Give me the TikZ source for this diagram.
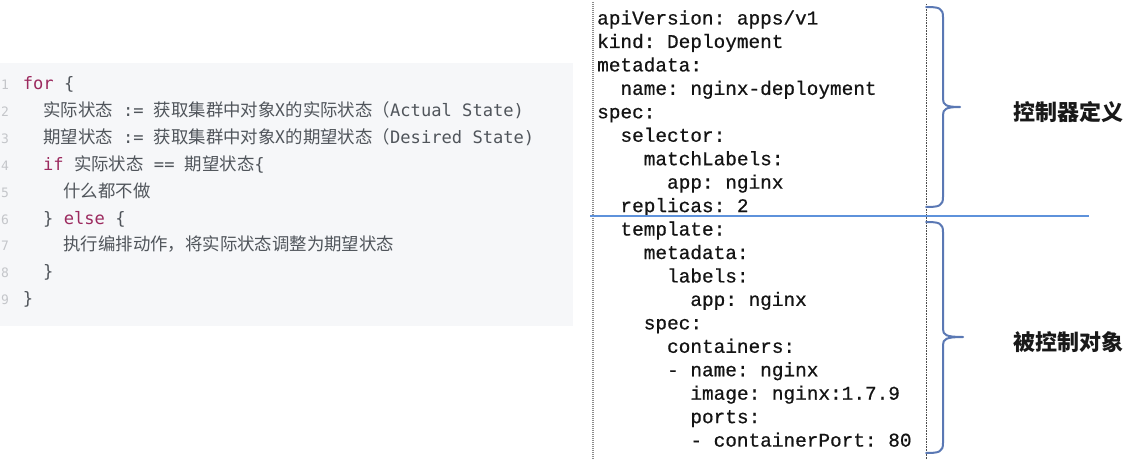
\documentclass[tikz,border=0pt]{standalone}
\usepackage{fontspec}
\setmainfont{DejaVu Sans}
\newfontfamily\lmono{DejaVu Sans Mono}
\newfontfamily\cjk{Noto Sans CJK SC}
\newfontfamily\ymono[FakeBold=0.6]{Liberation Mono}
\frenchspacing
\definecolor{codebg}{HTML}{F6F7F9}
\definecolor{codetxt}{HTML}{50555B}
\definecolor{kwc}{HTML}{9C2A5F}
\definecolor{lnum}{HTML}{C4C6CA}
\definecolor{sepblue}{HTML}{5E92DB}
\definecolor{bracec}{HTML}{5A78B4}
\newcommand\cj[1]{{\cjk\fontsize{17.4}{20}\selectfont #1}}
\newcommand\kw[1]{\textcolor{kwc}{#1}}
\tikzset{
  codeline/.style={anchor=base west, inner sep=0pt, text=codetxt,
    font=\lmono\fontsize{17.1}{20}\selectfont\frenchspacing},
  linenum/.style={anchor=base west, inner sep=0pt, text=lnum,
    font=\lmono\fontsize{13}{16}\selectfont},
  yamlline/.style={anchor=base west, inner sep=0pt, text=black!92,
    font=\ymono\fontsize{19.4}{22}\selectfont\frenchspacing},
  bracelabel/.style={anchor=center, inner sep=0pt, text=black!90,
    font=\cjk\bfseries\fontsize{22}{24}\selectfont},
  bracepath/.style={draw=bracec, line width=2pt, line cap=round, line join=round},
  sepline/.style={draw=sepblue, line width=1.8pt},
  leftdots/.style={draw=black!45, line width=1.3pt, dash pattern=on 1pt off 1pt},
  rightdots/.style={draw=black!70, line width=0.7pt, dash pattern=on 0.8pt off 0.8pt}
}
\begin{document}
\begin{tikzpicture}[x=1pt,y=-1pt]
\useasboundingbox[fill=white] (0,0) rectangle (1140,460);
% ---------- left code panel ----------
\fill[codebg] (0,63) rectangle (573,326);
\foreach \n in {1,...,9}{
  \node[linenum] (ln\n) at (1,{89.5+26.9*(\n-1)}) {\n};
}
\node[codeline] (c1) at (22.7,89.5) {\kw{for}~\{};
\node[codeline] (c2) at (43,116.4) {\cj{实际状态}~:=~\cj{获取集群中对象X的实际状态（}Actual~State)};
\node[codeline] (c3) at (43,143.3) {\cj{期望状态}~:=~\cj{获取集群中对象X的期望状态（}Desired~State)};
\node[codeline] (c4) at (43,170.2) {\kw{if}~\cj{实际状态}~==~\cj{期望状态}\{};
\node[codeline] (c5) at (63.3,197.1) {\cj{什么都不做}};
\node[codeline] (c6) at (43,224) {\}~\kw{else}~\{};
\node[codeline] (c7) at (63.3,250.9) {\cj{执行编排动作，将实际状态调整为期望状态}};
\node[codeline] (c8) at (43,277.8) {\}};
\node[codeline] (c9) at (22.7,304.7) {\}};
% ---------- right yaml panel ----------
\draw[leftdots] (593,2) -- (593,460);
\draw[rightdots] (926,4) -- (926,460);
\foreach \c/\t [count=\i from 0] in {
  0/{apiVersion: apps/v1},
  0/{kind: Deployment},
  0/{metadata:},
  2/{name: nginx-deployment},
  0/{spec:},
  2/{selector:},
  4/{matchLabels:},
  6/{app: nginx},
  2/{replicas: 2},
  2/{template:},
  4/{metadata:},
  6/{labels:},
  8/{app: nginx},
  4/{spec:},
  6/{containers:},
  6/{- name: nginx},
  8/{image: nginx:1.7.9},
  8/{ports:},
  8/{- containerPort: 80}}{
  \node[yamlline] (y\i) at ({597+11.65*\c},{24.5+23.45*\i}) {\t};
}
\draw[sepline] (590,216) -- (1089,216);
% braces
\coordinate (b1top) at (926,7);
\coordinate (b1tip) at (960,107);
\coordinate (b1bot) at (926,207);
\path[bracepath] (b1top) .. controls (939,7) and (943,8) .. (943,17)
  -- (943,99) .. controls (943,105) and (946,107) .. (b1tip)
  .. controls (946,107) and (943,109) .. (943,115)
  -- (943,197) .. controls (943,206) and (939,207) .. (b1bot);
\coordinate (b2top) at (926,222);
\coordinate (b2tip) at (963,337);
\coordinate (b2bot) at (926,453);
\path[bracepath] (b2top) .. controls (939,222) and (943,223) .. (943,232)
  -- (943,329) .. controls (943,335) and (946,337) .. (b2tip)
  .. controls (946,337) and (943,339) .. (943,345)
  -- (943,443) .. controls (943,452) and (939,453) .. (b2bot);
\node[bracelabel] (lab1) at (1068,112) {控制器定义};
\node[bracelabel] (lab2) at (1068,342) {被控制对象};
\end{tikzpicture}
\end{document}
